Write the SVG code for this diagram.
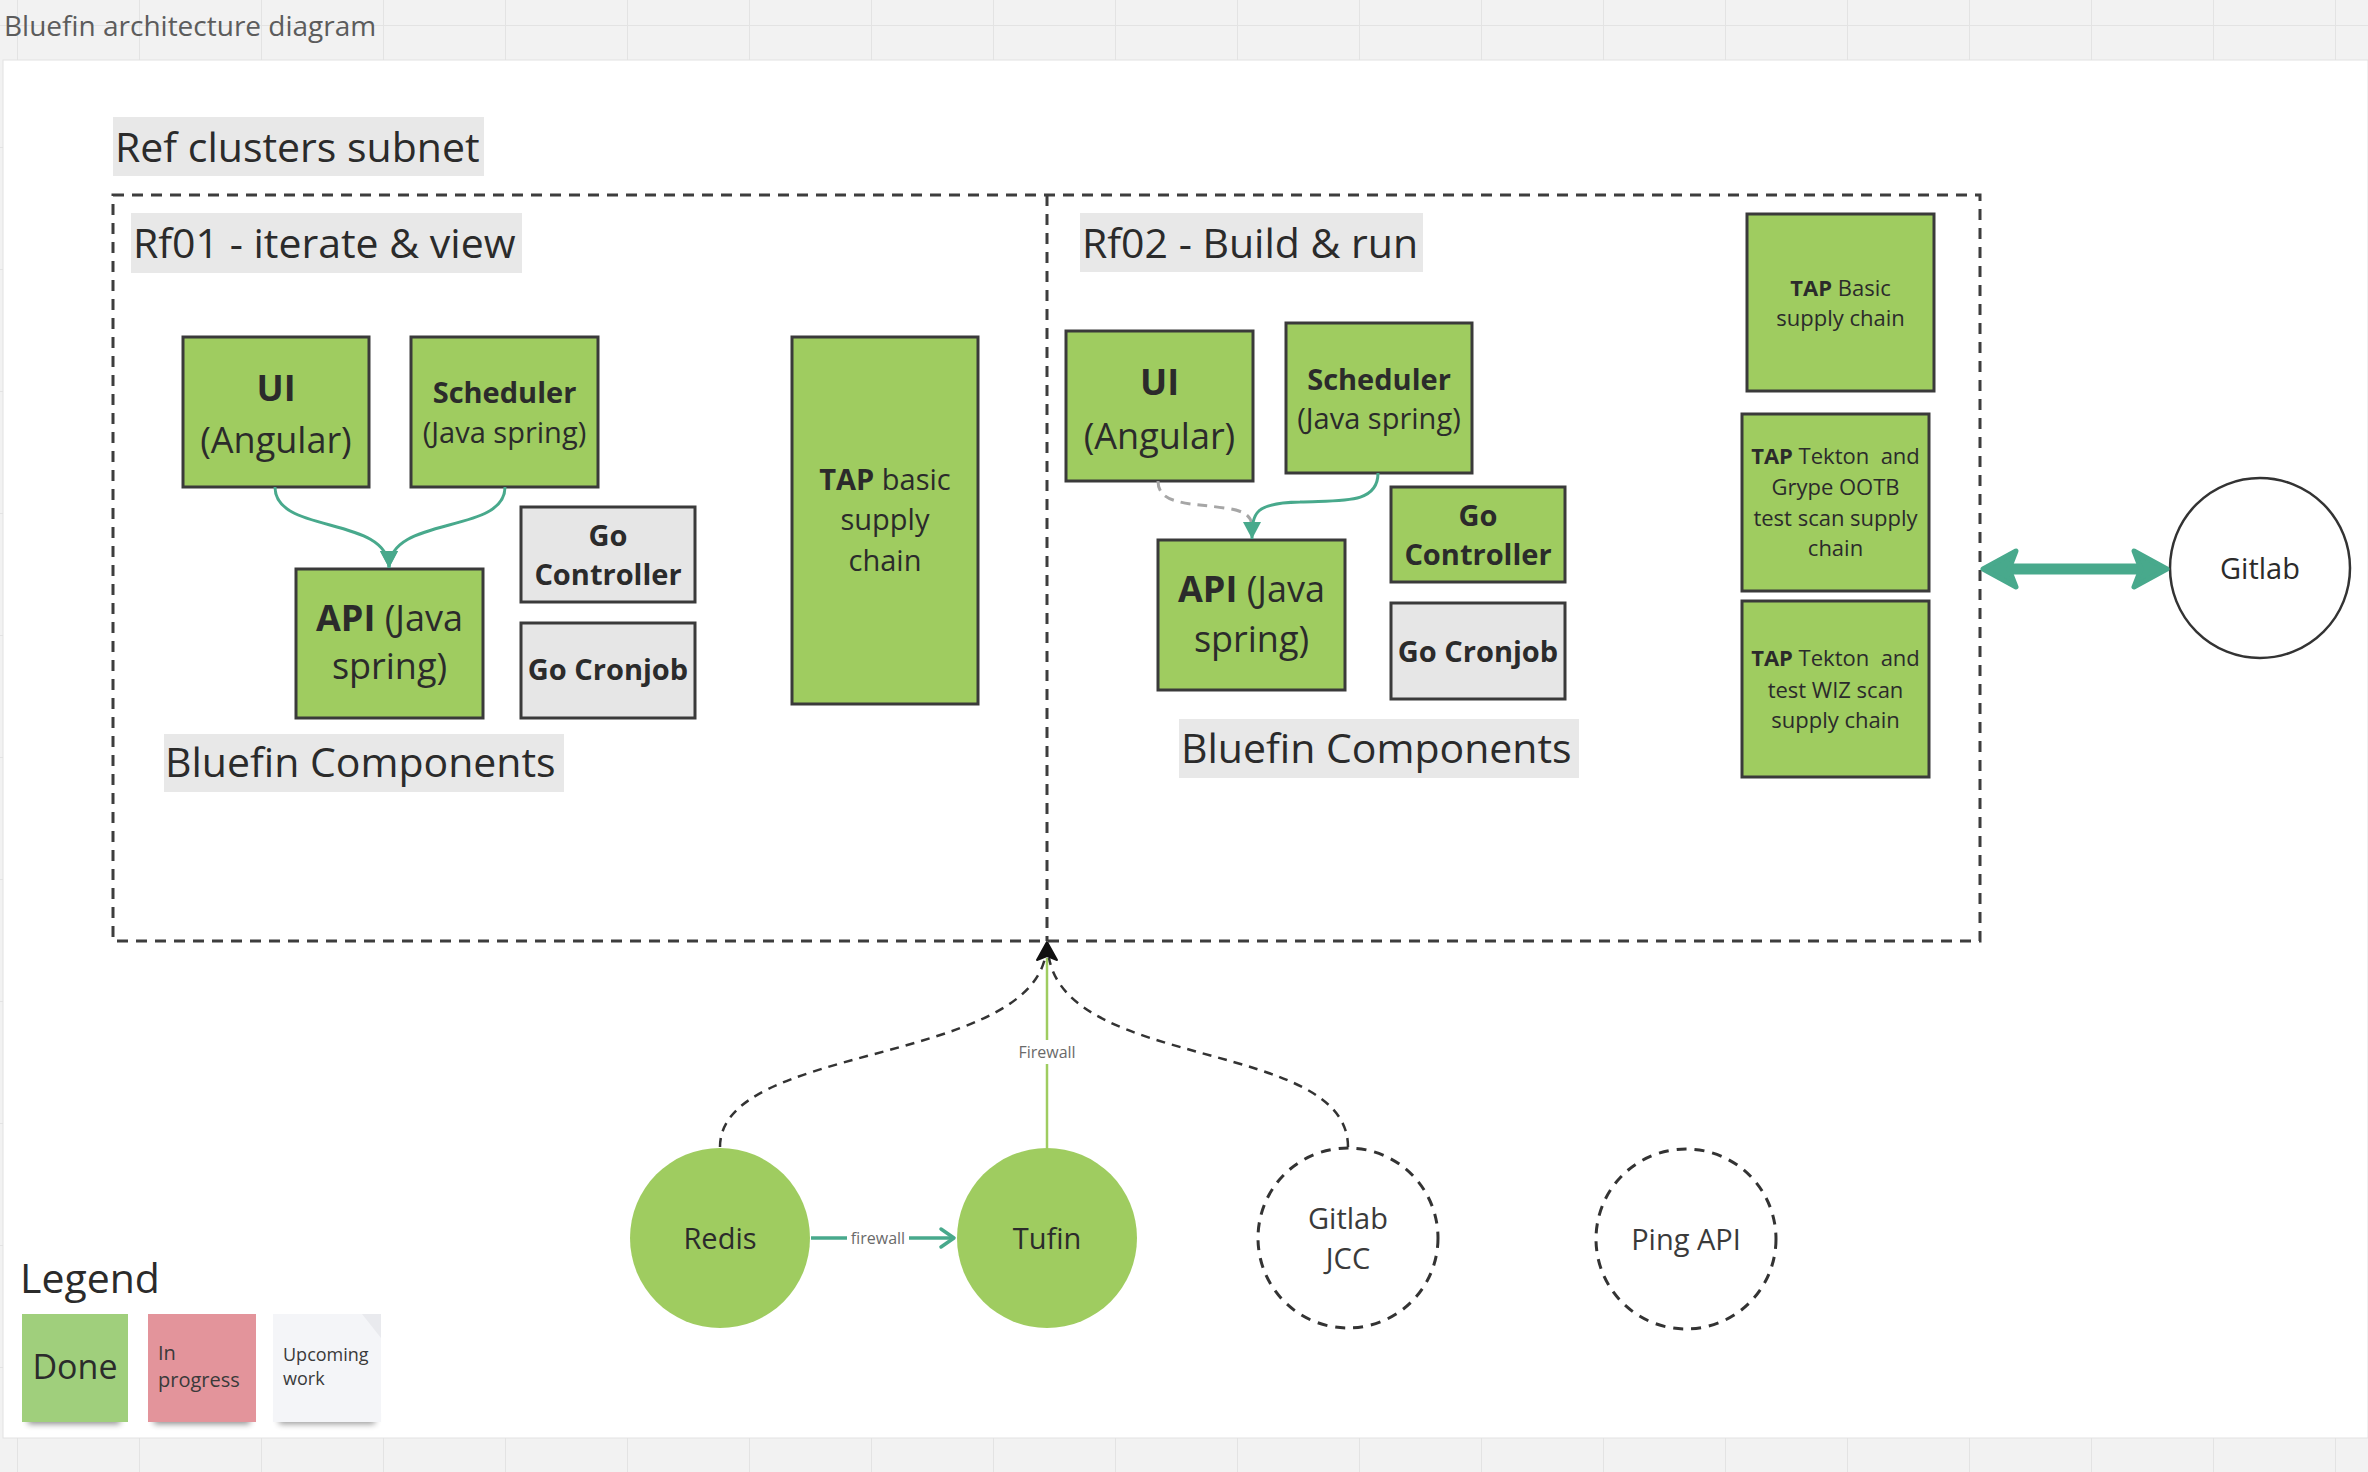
<svg xmlns="http://www.w3.org/2000/svg" width="2368" height="1472" viewBox="0 0 2368 1472">
<defs>
<style>
.t{font-family:'Open Sans','Liberation Sans',sans-serif;fill:#2b2b2b}
.m{text-anchor:middle}
.b{font-weight:700}
.box{fill:#9fcc60;stroke:#3a3a3a;stroke-width:3}
.gbox{fill:#e6e6e6;stroke:#3a3a3a;stroke-width:3}
.lbl{fill:#e8e8e8}
.dash{fill:none;stroke:#3d3d3d;stroke-width:3;stroke-dasharray:11 8}
.teal{fill:none;stroke:#48a98c;stroke-width:3}
</style>
<pattern id="grid" x="17" y="25" width="122" height="122" patternUnits="userSpaceOnUse">
<path d="M0,0 V122 M0,0 H122" stroke="#e3e3e3" stroke-width="2" fill="none"/>
</pattern>
<marker id="th" markerUnits="userSpaceOnUse" markerWidth="20" markerHeight="20" refX="17" refY="9" orient="auto">
<path d="M0,0 L17,9 L0,18 Z" fill="#48a98c"/>
</marker>
<filter id="blur" x="-20%" y="-100%" width="140%" height="300%"><feGaussianBlur stdDeviation="3"/></filter>
</defs>

<!-- background -->
<rect width="2368" height="1472" fill="#f2f2f2"/>
<rect width="2368" height="1472" fill="url(#grid)"/>
<rect x="3" y="60" width="2365" height="1378" fill="#ffffff" stroke="#e2e2e2" stroke-width="1"/>
<text class="t" x="4" y="36" font-size="28" style="fill:#5c5c5c">Bluefin architecture diagram</text>

<!-- cluster containers -->
<g id="ref-clusters-subnet">
<rect class="lbl" x="113" y="117" width="371" height="59"/>
<text class="t" x="115" y="162" font-size="41">Ref clusters subnet</text>
<rect class="dash" x="113" y="195" width="1867" height="746"/>
<line class="dash" x1="1047" y1="195" x2="1047" y2="941"/>
</g>

<g id="rf01">
<rect class="lbl" x="131" y="213" width="391" height="60"/>
<text class="t" x="133" y="258" font-size="41">Rf01 - iterate &amp; view</text>
<rect class="lbl" x="164" y="734" width="400" height="58"/>
<text class="t" x="165" y="777" font-size="41">Bluefin Components</text>
</g>

<g id="rf02">
<rect class="lbl" x="1080" y="213" width="343" height="59"/>
<text class="t" x="1082" y="258" font-size="41">Rf02 - Build &amp; run</text>
<rect class="lbl" x="1179" y="719" width="400" height="59"/>
<text class="t" x="1181" y="763" font-size="41">Bluefin Components</text>
</g>

<!-- Rf01 nodes -->
<g id="rf01-ui">
<rect class="box" x="183" y="337" width="186" height="150"/>
<text class="t m b" x="276" y="401" font-size="36">UI</text>
<text class="t m" x="276" y="453" font-size="36">(Angular)</text>
</g>
<g id="rf01-scheduler">
<rect class="box" x="411" y="337" width="187" height="150"/>
<text class="t m b" x="504.5" y="403" font-size="29">Scheduler</text>
<text class="t m" x="504.5" y="443" font-size="29">(Java spring)</text>
</g>
<g id="rf01-go-controller">
<rect class="gbox" x="521" y="507" width="174" height="95"/>
<text class="t m b" x="608" y="546" font-size="29">Go</text>
<text class="t m b" x="608" y="585" font-size="29">Controller</text>
</g>
<g id="rf01-go-cronjob">
<rect class="gbox" x="521" y="623" width="174" height="95"/>
<text class="t m b" x="608" y="680" font-size="29">Go Cronjob</text>
</g>
<g id="rf01-api">
<rect class="box" x="296" y="569" width="187" height="149"/>
<text class="t m" x="389.5" y="631" font-size="36"><tspan class="b">API</tspan> (Java</text>
<text class="t m" x="389.5" y="679" font-size="36">spring)</text>
</g>
<g id="rf01-tap">
<rect class="box" x="792" y="337" width="186" height="367"/>
<text class="t m" x="885" y="490" font-size="29"><tspan class="b">TAP</tspan> basic</text>
<text class="t m" x="885" y="530" font-size="29">supply</text>
<text class="t m" x="885" y="571" font-size="29">chain</text>
</g>

<!-- Rf02 nodes -->
<g id="rf02-ui">
<rect class="box" x="1066" y="331" width="187" height="150"/>
<text class="t m b" x="1159.5" y="395" font-size="36">UI</text>
<text class="t m" x="1159.5" y="449" font-size="36">(Angular)</text>
</g>
<g id="rf02-scheduler">
<rect class="box" x="1286" y="323" width="186" height="150"/>
<text class="t m b" x="1379" y="390" font-size="29">Scheduler</text>
<text class="t m" x="1379" y="429" font-size="29">(Java spring)</text>
</g>
<g id="rf02-go-controller">
<rect class="box" x="1391" y="487" width="174" height="95"/>
<text class="t m b" x="1478" y="526" font-size="29">Go</text>
<text class="t m b" x="1478" y="565" font-size="29">Controller</text>
</g>
<g id="rf02-go-cronjob">
<rect class="gbox" x="1391" y="603" width="174" height="96"/>
<text class="t m b" x="1478" y="662" font-size="29">Go Cronjob</text>
</g>
<g id="rf02-api">
<rect class="box" x="1158" y="540" width="187" height="150"/>
<text class="t m" x="1251.5" y="602" font-size="36"><tspan class="b">API</tspan> (Java</text>
<text class="t m" x="1251.5" y="652" font-size="36">spring)</text>
</g>
<g id="tap-basic">
<rect class="box" x="1747" y="214" width="187" height="177"/>
<text class="t m" x="1840.5" y="296" font-size="22"><tspan class="b">TAP</tspan> Basic</text>
<text class="t m" x="1840.5" y="326" font-size="22">supply chain</text>
</g>
<g id="tap-grype">
<rect class="box" x="1742" y="414" width="187" height="177"/>
<text class="t m" x="1835.5" y="464" font-size="22"><tspan class="b">TAP</tspan> Tekton&#160; and</text>
<text class="t m" x="1835.5" y="495" font-size="22">Grype OOTB</text>
<text class="t m" x="1835.5" y="526" font-size="22">test scan supply</text>
<text class="t m" x="1835.5" y="556" font-size="22">chain</text>
</g>
<g id="tap-wiz">
<rect class="box" x="1742" y="601" width="187" height="176"/>
<text class="t m" x="1835.5" y="666" font-size="22"><tspan class="b">TAP</tspan> Tekton&#160; and</text>
<text class="t m" x="1835.5" y="698" font-size="22">test WIZ scan</text>
<text class="t m" x="1835.5" y="728" font-size="22">supply chain</text>
</g>

<g id="gitlab">
<circle cx="2260" cy="568" r="90" fill="#ffffff" stroke="#333333" stroke-width="2.5"/>
<text class="t m" x="2260" y="579" font-size="29">Gitlab</text>
</g>

<!-- bottom nodes -->
<g id="redis">
<circle cx="720" cy="1238" r="90" fill="#9fcc60"/>
<text class="t m" x="720" y="1249" font-size="29">Redis</text>
</g>
<g id="tufin">
<circle cx="1047" cy="1238" r="90" fill="#9fcc60"/>
<text class="t m" x="1047" y="1249" font-size="29">Tufin</text>
</g>
<g id="gitlab-jcc">
<circle cx="1348" cy="1238" r="90" fill="#ffffff" stroke="#333333" stroke-width="3" stroke-dasharray="10 8"/>
<text class="t m" x="1348" y="1229" font-size="29" style="fill:#3a3a3a">Gitlab</text>
<text class="t m" x="1348" y="1269" font-size="29" style="fill:#3a3a3a">JCC</text>
</g>
<g id="ping-api">
<circle cx="1686" cy="1239" r="90" fill="#ffffff" stroke="#333333" stroke-width="3" stroke-dasharray="10 8"/>
<text class="t m" x="1686" y="1250" font-size="29" style="fill:#3a3a3a">Ping API</text>
</g>

<!-- connectors -->
<g id="connectors">
<path class="teal" d="M275,487 C275,535 389,515 389,568" marker-end="url(#th)"/>
<path class="teal" d="M505,487 C505,535 389,515 389,568" marker-end="url(#th)"/>
<path d="M1158,481 C1158,505 1190,503 1225,508 C1248,511 1252,518 1252,528" fill="none" stroke="#a6a6a6" stroke-width="3" stroke-dasharray="10 7"/>
<path class="teal" d="M1378,473 C1378,505 1340,500 1300,502 C1255,503 1252,512 1252,539" marker-end="url(#th)"/>
<g id="gitlab-link">
<line x1="2004" y1="569" x2="2146" y2="569" stroke="#48a98c" stroke-width="11"/>
<path d="M1983,569 L2016,551 L2009,569 L2016,587 Z" fill="#48a98c" stroke="#48a98c" stroke-width="5" stroke-linejoin="round"/>
<path d="M2167,569 L2134,551 L2141,569 L2134,587 Z" fill="#48a98c" stroke="#48a98c" stroke-width="5" stroke-linejoin="round"/>
</g>
<g id="redis-tufin">
<line x1="811" y1="1238" x2="953" y2="1238" stroke="#48a98c" stroke-width="3.5"/>
<path d="M941,1229 L954,1238 L941,1247" fill="none" stroke="#48a98c" stroke-width="3.5" stroke-linecap="round" stroke-linejoin="round"/>
<rect x="847" y="1226" width="62" height="24" fill="#ffffff"/>
<text class="t m" x="878" y="1244" font-size="16" style="fill:#6a6a6a">firewall</text>
</g>
<g id="tufin-cluster">
<line x1="1047" y1="1148" x2="1047" y2="958" stroke="#9fcc60" stroke-width="2.5"/>
<rect x="1015" y="1040" width="64" height="24" fill="#ffffff"/>
<text class="t m" x="1047" y="1058" font-size="16" style="fill:#6a6a6a">Firewall</text>
</g>
<path d="M720,1147 C720,1045 1020,1065 1045,958" fill="none" stroke="#333333" stroke-width="2.5" stroke-dasharray="9 7"/>
<path d="M1348,1147 C1348,1040 1070,1070 1049,958" fill="none" stroke="#333333" stroke-width="2.5" stroke-dasharray="9 7"/>
<path d="M1047,942 L1057,960 L1047,956 L1037,960 Z" fill="#111111" stroke="#111111" stroke-width="2" stroke-linejoin="round"/>
</g>

<!-- legend -->
<g id="legend">
<text class="t" x="20" y="1293" font-size="41">Legend</text>
</g>
<g id="legend-done">
<rect x="28" y="1412" width="92" height="12" fill="#000" opacity="0.45" filter="url(#blur)"/>
<rect x="22" y="1314" width="106" height="108" fill="#a0cf7c"/>
<text class="t m" x="75" y="1379" font-size="34">Done</text>
</g>
<g id="legend-in-progress">
<rect x="154" y="1412" width="96" height="12" fill="#000" opacity="0.45" filter="url(#blur)"/>
<rect x="148" y="1314" width="108" height="108" fill="#e3949b"/>
<text class="t" x="158" y="1360" font-size="20" style="fill:#3a3a3a">In</text>
<text class="t" x="158" y="1387" font-size="20" style="fill:#3a3a3a">progress</text>
</g>
<g id="legend-upcoming">
<rect x="279" y="1412" width="96" height="12" fill="#000" opacity="0.4" filter="url(#blur)"/>
<rect x="273" y="1314" width="108" height="108" fill="#f4f5f8"/>
<path d="M362,1314 L381,1314 L381,1338 Z" fill="#e9eaee"/>
<text class="t" x="283" y="1361" font-size="18" style="fill:#3a3a3a">Upcoming</text>
<text class="t" x="283" y="1385" font-size="18" style="fill:#3a3a3a">work</text>
</g>
</svg>
